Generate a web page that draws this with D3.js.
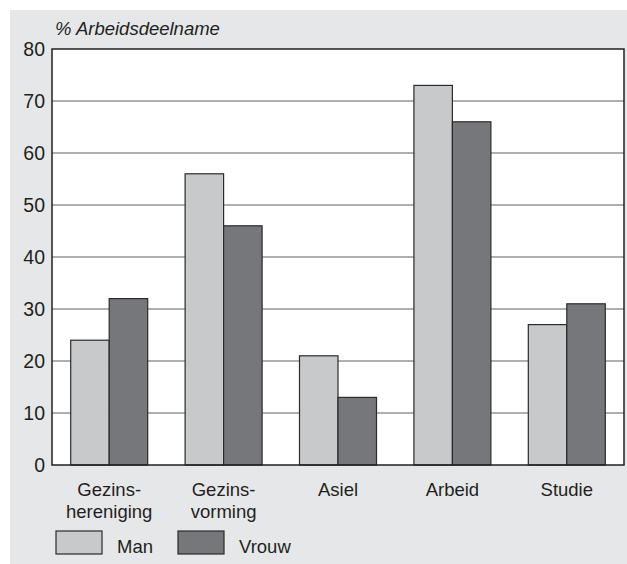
<!DOCTYPE html>
<html><head><meta charset="utf-8">
<script src="https://cdn.jsdelivr.net/npm/d3@7"></script>
<style>body{margin:0;background:#fff}svg{display:block}text{font-family:"Liberation Sans",Arial,sans-serif;fill:#231f20}</style>
</head><body><svg id="c" width="627" height="564"></svg>
<script>
const categories = [["Gezins-","hereniging"],["Gezins-","vorming"],["Asiel"],["Arbeid"],["Studie"]];
const series = ["Man","Vrouw"];
const manValues = [24,56,21,73,27];
const vrouwValues = [32,46,13,66,31];
const yTicks = [0,10,20,30,40,50,60,70,80];
const colors = {Man:"#c8c9cb", Vrouw:"#76777a"};
const FS = 18.5;

const svg = d3.select("#c");
svg.append("rect").attr("x",10).attr("y",10).attr("width",617).attr("height",554).attr("fill","#e6e7e8");

const m = {l:52, r:624, t:49, b:465};
const catKeys = categories.map((c,i)=>i);
const x0 = d3.scaleBand().domain(catKeys).range([m.l,m.r]).paddingInner(0.327).paddingOuter(0.1635);
const x1 = d3.scaleBand().domain(series).range([0,x0.bandwidth()]);
const y = d3.scaleLinear().domain([0,80]).range([m.b,m.t]);

svg.append("rect").attr("x",m.l).attr("y",m.t).attr("width",m.r-m.l).attr("height",m.b-m.t).attr("fill","#fff");

// gridlines
svg.append("g").selectAll("line").data(yTicks.filter(d=>d>0&&d<80)).join("line")
  .attr("x1",m.l).attr("x2",m.r).attr("y1",d=>y(d)).attr("y2",d=>y(d))
  .attr("stroke","#5f6062").attr("stroke-width",1.2);

const data = catKeys.map(i=>({i, Man:manValues[i], Vrouw:vrouwValues[i]}));
svg.append("g").selectAll("g").data(data).join("g")
  .attr("transform",d=>`translate(${x0(d.i)},0)`)
  .selectAll("rect").data(d=>series.map(s=>({s,v:d[s]}))).join("rect")
  .attr("x",d=>x1(d.s)).attr("width",x1.bandwidth())
  .attr("y",d=>y(d.v)).attr("height",d=>y(0)-y(d.v))
  .attr("fill",d=>colors[d.s]).attr("stroke","#2b2b2b").attr("stroke-width",1.2);

// border
svg.append("rect").attr("x",m.l).attr("y",m.t).attr("width",m.r-m.l).attr("height",m.b-m.t)
  .attr("fill","none").attr("stroke","#231f20").attr("stroke-width",1.5);

// y axis
const yAxis = svg.append("g").attr("transform",`translate(${m.l},0)`)
  .call(d3.axisLeft(y).tickValues(yTicks).tickSize(0).tickPadding(7));
yAxis.select(".domain").remove();
yAxis.selectAll("text").attr("font-size",FS+1).style("font-family","'Liberation Sans',Arial,sans-serif").attr("fill","#231f20");

// x labels
const xl = svg.append("g").selectAll("text").data(catKeys).join("text")
  .attr("x",i=>x0(i)+x0.bandwidth()/2).attr("y",496).attr("text-anchor","middle").attr("font-size",FS);
xl.selectAll("tspan").data(i=>categories[i]).join("tspan")
  .attr("x",function(){return d3.select(this.parentNode).attr("x");})
  .attr("dy",(d,k)=>k===0?0:21.5).text(d=>d);

// title
svg.append("text").attr("x",55).attr("y",35).attr("font-size",FS).attr("font-style","italic").text("% Arbeidsdeelname");

// legend
const lx = [56,178];
const lg = svg.append("g").selectAll("g").data(series).join("g");
lg.append("rect").attr("x",(d,i)=>lx[i]).attr("y",531).attr("width",46).attr("height",23)
  .attr("fill",d=>colors[d]).attr("stroke","#2b2b2b").attr("stroke-width",1.2);
lg.append("text").attr("x",(d,i)=>lx[i]+61).attr("y",553).attr("font-size",FS).text(d=>d);
</script></body></html>
